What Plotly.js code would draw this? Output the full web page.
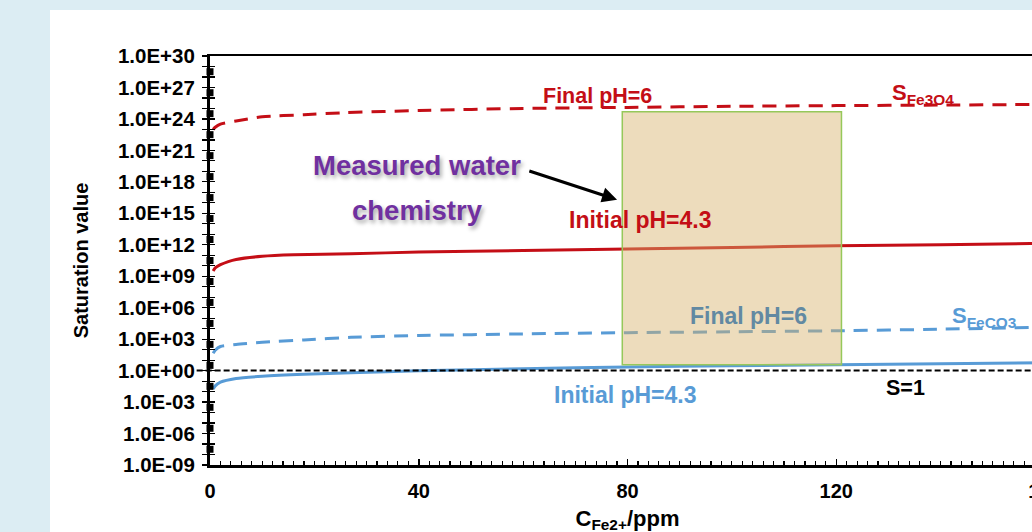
<!DOCTYPE html>
<html>
<head>
<meta charset="utf-8">
<script src="https://cdn.plot.ly/plotly-3.0.1.min.js"></script>
<style>
  html, body { margin: 0; padding: 0; width: 1032px; height: 532px; overflow: hidden; background: rgb(220,237,243); }
  #chart { position: absolute; left: 50px; top: 10px; width: 1055px; height: 560px; background: #ffffff; }
</style>
</head>
<body>
<div id="chart"></div>
<script>
// ---- data ----
// Fe2+ concentration (ppm)
const xFe3O4Final   = [0.6, 1, 2, 5, 10, 18, 26, 40, 60, 80, 100, 120, 140, 160];
const sFe3O4Final   = [1.0e23, 1.6e23, 3.2e23, 6.3e23, 1.6e24, 2.5e24, 4.0e24, 6.3e24, 1.0e25, 1.26e25, 1.58e25, 1.86e25, 2.1e25, 2.4e25];

const xFe3O4Initial = [0.6, 1, 2, 3.5, 5, 10, 16, 27, 40, 60, 80, 100, 120, 140, 160];
const sFe3O4Initial = [3.2e9, 6.3e9, 1.26e10, 2.5e10, 4.0e10, 7.9e10, 1.1e11, 1.4e11, 2.0e11, 2.8e11, 4.0e11, 5.6e11, 7.9e11, 1.0e12, 1.4e12];

const xFeCO3Final   = [0.6, 1, 2, 5, 10, 18, 27, 40, 60, 80, 100, 120, 140, 160];
const sFeCO3Final   = [45, 89, 200, 316, 500, 850, 1480, 2240, 3160, 4170, 5000, 6300, 8900, 14000];

const xFeCO3Initial = [0.6, 1, 2, 5, 10, 18, 27, 40, 60, 80, 100, 120, 140, 160];
const sFeCO3Initial = [0.018, 0.035, 0.079, 0.178, 0.29, 0.45, 0.62, 0.95, 1.5, 2.2, 2.9, 3.6, 4.5, 5.6];

// markers sitting on the vertical axis
const axisMarkX = [0,0,0,0,0,0,0,0,0,0,0,0,0,0,0,0,0,0,0];
const axisMarkY = [3.16e28,3.16e26,3.16e24,3.16e22,3.16e20,3.16e18,3.16e16,3.16e14,3.16e12,3.16e10,3.16e8,3.16e6,3.16e4,316,3.16,0.0316,3.16e-4,3.16e-6,3.16e-8];

// measured water chemistry box
const boxX = [79, 121];
const boxS = [3.7, 4.9e24];

// saturation reference S = 1
const sRef = 1;

// ticks
const yTickVals = [1e-9,1e-8,1e-7,1e-6,1e-5,1e-4,1e-3,1e-2,1e-1,1,1e1,1e2,1e3,1e4,1e5,1e6,1e7,1e8,1e9,1e10,1e11,1e12,1e13,1e14,1e15,1e16,1e17,1e18,1e19,1e20,1e21,1e22,1e23,1e24,1e25,1e26,1e27,1e28,1e29,1e30];
const yLabelVals = [1e-9,1e-6,1e-3,1,1e3,1e6,1e9,1e12,1e15,1e18,1e21,1e24,1e27,1e30];
const yLabelText = ['1.0E-09','1.0E-06','1.0E-03','1.0E+00','1.0E+03','1.0E+06','1.0E+09','1.0E+12','1.0E+15','1.0E+18','1.0E+21','1.0E+24','1.0E+27','1.0E+30'];
const xTickVals = [0, 40, 80, 120, 160];
const xTickText = ['0', '40', '80', '120', '160'];

// ---- styles ----
const RED = 'rgb(196,14,22)';
const BLUE = 'rgb(88,155,214)';
const PURPLE = 'rgb(112,48,160)';
const FONT = 'Liberation Sans, Arial, sans-serif';

const yTickText = yTickVals.map(v => {
  const i = yLabelVals.indexOf(v);
  return i >= 0 ? yLabelText[i] : '';
});

const traces = [
  { x: xFe3O4Final, y: sFe3O4Final, mode: 'lines', line: { color: RED, width: 3, dash: '14px,9px', shape: 'spline', smoothing: 0.6 }, hoverinfo: 'skip' },
  { x: xFe3O4Initial, y: sFe3O4Initial, mode: 'lines', line: { color: RED, width: 3, shape: 'spline', smoothing: 0.6 }, hoverinfo: 'skip' },
  { x: xFeCO3Final, y: sFeCO3Final, mode: 'lines', line: { color: BLUE, width: 3, dash: '14px,9px', shape: 'spline', smoothing: 0.6 }, hoverinfo: 'skip' },
  { x: xFeCO3Initial, y: sFeCO3Initial, mode: 'lines', line: { color: BLUE, width: 3, shape: 'spline', smoothing: 0.6 }, hoverinfo: 'skip' },
  { x: axisMarkX, y: axisMarkY, yaxis: 'y2', mode: 'markers', cliponaxis: false, marker: { symbol: 'square', size: 7, color: 'black' }, hoverinfo: 'skip' }
];

const L = Math.log10;
const ann = (text, x, s, color, size, shadow) => ({
  text: text, x: x, y: L(s), xref: 'x', yref: 'y', showarrow: false,
  font: Object.assign({ family: FONT, size: size, color: color, weight: 'bold' }, shadow ? { shadow: shadow } : {})
});

const SHADOW = '2px 3px 4px rgba(0,0,0,0.35)';
const annotations = [
  ann('Final pH=6', 74.3, 1.6e26, RED, 21.5),
  ann('S<sub>Fe3O4</sub>', 136.6, 2.2e26, RED, 22),
  ann('Initial pH=4.3', 82.4, 2.5e14, RED, 23),
  ann('Measured water', 39.7, 3.5e19, PURPLE, 27.5, SHADOW),
  ann('chemistry', 39.7, 1.8e15, PURPLE, 27.5, SHADOW),
  ann('Final pH=6', 103.1, 1.75e5, 'rgb(98,137,162)', 23),
  ann('S<sub>FeCO3</sub>', 148.4, 1.4e5, BLUE, 22),
  ann('Initial pH=4.3', 79.7, 5.1e-3, BLUE, 23),
  ann('S=1', 133.2, 2.4e-2, 'black', 21.5),
  { text: '', x: 78.0, y: L(2.0e16), xref: 'x', yref: 'y', ax: 60.9, ay: L(1.2e19), axref: 'x', ayref: 'y',
    showarrow: true, arrowhead: 2, arrowsize: 1, arrowwidth: 3, arrowcolor: 'black' }
];

const layout = {
  width: 1055, height: 560,
  margin: { l: 160, r: 60, t: 46, b: 105 },
  paper_bgcolor: '#ffffff', plot_bgcolor: '#ffffff',
  showlegend: false,
  font: { family: FONT, color: 'black' },
  xaxis: {
    type: 'linear', range: [0, 160], showgrid: false, zeroline: false,
    showline: true, linecolor: 'black', linewidth: 2.5, mirror: true,
    tickmode: 'array', tickvals: xTickVals, ticktext: xTickText,
    ticks: 'inside', ticklen: 6, tickwidth: 1.5, tickcolor: 'black',
    ticklabelstandoff: 6,
    minor: { dtick: 2, ticks: 'inside', ticklen: 4, tickwidth: 1.2, tickcolor: 'black', showgrid: false },
    tickfont: { family: FONT, size: 20, color: 'black', weight: 'bold' },
    title: { text: 'C<sub>Fe2+</sub>/ppm', font: { family: FONT, size: 22, color: 'black', weight: 'bold' }, standoff: 10 }
  },
  yaxis: {
    type: 'log', range: [-9, 30], showgrid: false, zeroline: false,
    showline: true, linecolor: 'black', linewidth: 3,
    tickmode: 'array', tickvals: yTickVals, ticktext: yTickText,
    ticks: 'outside', ticklen: 5, tickwidth: 1.2, tickcolor: 'black',
    ticklabelstandoff: 3,
    tickfont: { family: FONT, size: 20.5, color: 'black', weight: 'bold' },
    title: { text: 'Saturation value', font: { family: FONT, size: 20, color: 'black', weight: 'bold' }, standoff: 24 }
  },
  yaxis2: {
    type: 'log', range: [-9, 30], overlaying: 'y', side: 'left', anchor: 'x',
    showgrid: false, zeroline: false, showline: false, showticklabels: false,
    tickmode: 'array', tickvals: yTickVals,
    ticks: 'inside', ticklen: 5, tickwidth: 1.2, tickcolor: 'black'
  },
  shapes: [
    { type: 'line', xref: 'paper', yref: 'y', x0: -0.016, x1: 1, y0: sRef, y1: sRef,
      line: { color: 'black', width: 2, dash: '6px,3px' }, layer: 'above' },
    { type: 'rect', xref: 'x', yref: 'y', x0: boxX[0], x1: boxX[1], y0: boxS[0], y1: boxS[1],
      fillcolor: 'rgba(214,178,106,0.45)', line: { color: 'rgb(150,200,90)', width: 1.5 }, layer: 'above' }
  ],
  annotations: annotations
};

Plotly.newPlot('chart', traces, layout, { staticPlot: true, displayModeBar: false });
</script>
</body>
</html>
